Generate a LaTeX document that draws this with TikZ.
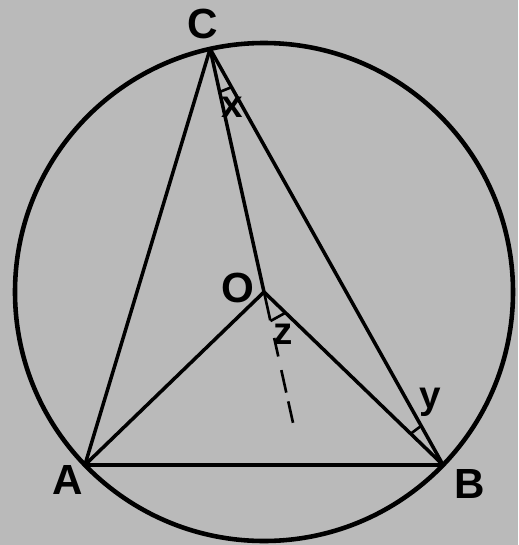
\documentclass[tikz,border=0pt]{standalone}
\usepackage{fontspec}
\setmainfont{Liberation Sans}
\usetikzlibrary{calc}
\begin{document}
\begin{tikzpicture}[x=0.02cm,y=-0.02cm,
  bigline/.style={line width=2.6pt},
  edge/.style={line width=2.0pt},
  tick/.style={line width=1.5pt},
  caplabel/.style={font=\fontsize{24}{24}\selectfont\bfseries, inner sep=0pt},
  smalllabel/.style={font=\fontsize{22}{22}\selectfont\bfseries, inner sep=0pt}]
  \fill[black!27] (0,0) rectangle (518,545);
  \useasboundingbox (0,0) rectangle (518,545);
  \coordinate (O) at (264,292);
  \coordinate (A) at (84.9,465);
  \coordinate (B) at (443.1,465);
  \coordinate (C) at (210.1,48.9);
  \coordinate (E) at ($(C)!1.538!(O)$);
  \draw[bigline] (O) circle[radius=249];
  \draw[edge, line join=round] (A) -- (C) -- (B) -- cycle;
  \draw[edge] (C) -- (O);
  \draw[edge] (A) -- (O) -- (B);
  % dashed extension of CO
  \draw[tick] (O) -- ($(O)!0.216!(E)$);
  \draw[tick] ($(O)!0.351!(E)$) -- ($(O)!0.493!(E)$);
  \draw[tick] ($(O)!0.597!(E)$) -- ($(O)!0.769!(E)$);
  \draw[tick] ($(O)!0.836!(E)$) -- (E);
  % angle marks
  \draw[tick] ($(O)!0.222!(E)$) -- ($(O)!0.12!(B)$);
  \draw[tick] ($(C)!0.177!(O)$) -- ($(C)!0.092!(B)$);
  \draw[tick] ($(B)!0.181!(O)$) -- ($(B)!0.094!(C)$);
  % labels
  \node[caplabel] (lC) at (203,24) {C};
  \node[caplabel] (lO) at (238,288) {O};
  \node[caplabel] (lA) at (68,480) {A};
  \node[caplabel] (lB) at (470,484) {B};
  \node[smalllabel] (lx) at (232,107) {x};
  \node[smalllabel] (ly) at (430,402) {y};
  \node[smalllabel] (lz) at (283,334) {z};
\end{tikzpicture}
\end{document}
